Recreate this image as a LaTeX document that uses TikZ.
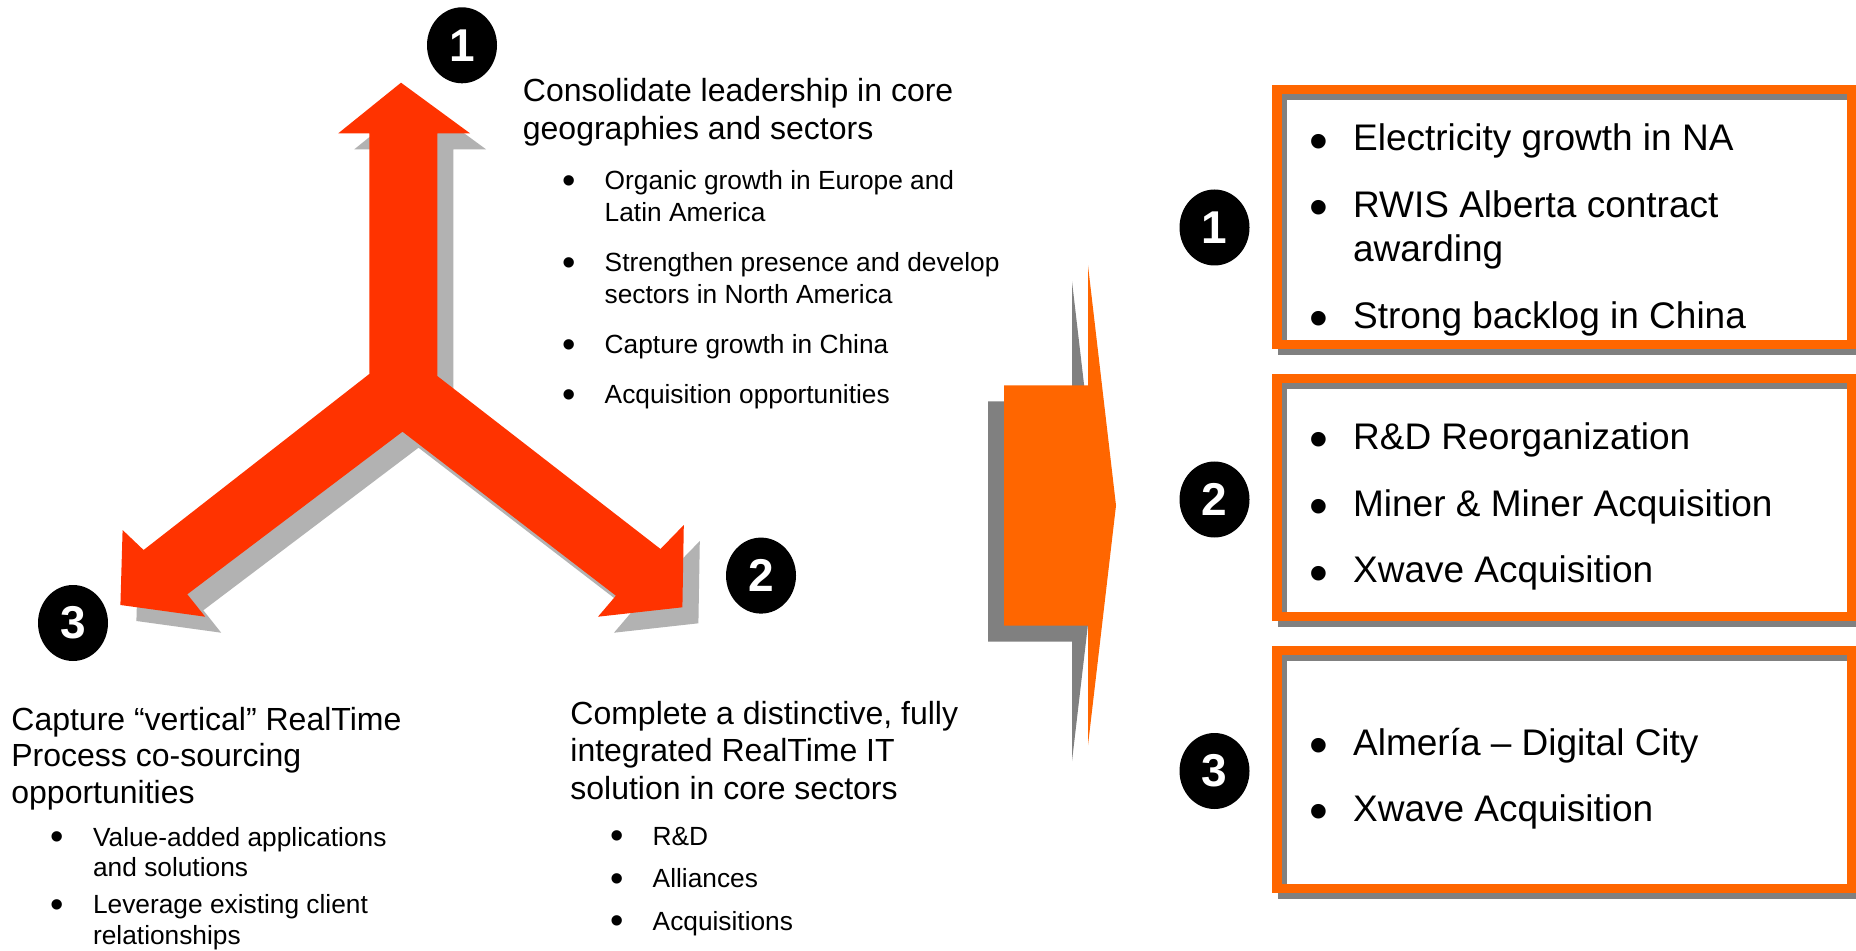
\documentclass[tikz,border=0pt]{standalone}
\usepackage{fontspec}
\setmainfont{Liberation Sans}
\usepackage{tikz}
\usetikzlibrary{positioning, shapes.geometric}
\usepackage{xcolor}

\definecolor{arrowRed}{HTML}{FF3300}
\definecolor{arrowShade}{HTML}{B2B2B2}
\definecolor{frameOrange}{HTML}{FF6600}
\definecolor{frameShade}{HTML}{808080}

% outline of the three-way arrow and of the big arrow (units: x=0.5pt, y=-0.5pt)
\newcommand{\forkArrowPath}{(401,82.7) -- (470,133.3) -- (437.3,133.3) -- (437.3,376) -- (660.5,549) -- (683.8,525) -- (682.4,607.3) -- (598,616.7) -- (615.9,595.7) -- (402.5,431.7) -- (187.3,594.3) -- (205.2,616.7) -- (120.4,605) -- (122.6,530) -- (143.6,550) -- (369.3,374) -- (369.3,133.3) -- (338.3,133.3) -- cycle}
\newcommand{\bigArrowPath}{(1004,385.5) -- (1088,385.5) -- (1088,265.5) -- (1116,505.5) -- (1088,745) -- (1088,625.5) -- (1004,625.5) -- cycle}
% a slightly heavier bullet
\newcommand{\dotMark}[1]{\hspace{-0.08em}\raisebox{#1}{\scalebox{1.45}{\textbullet}}}

\begin{document}
\begin{tikzpicture}[x=0.5pt, y=-0.5pt,
		numDot/.style={ellipse, fill=black, text=white, inner sep=0pt, minimum width=35pt, minimum height=38pt, font=\fontsize{23pt}{23pt}\selectfont\bfseries},
		textLine/.style={anchor=base west, inner sep=0pt},
		headText/.style={textLine, font=\fontsize{16pt}{#1}\selectfont},
		listText/.style={textLine, font=\fontsize{13.15pt}{#1}\selectfont},
		boxText/.style={textLine, font=\fontsize{18.5pt}{22pt}\selectfont},
		boxFrame/.style={rectangle, draw=frameOrange, line width=4.75pt, minimum width=287.25pt},
		boxShadow/.style={rectangle, draw=frameShade, line width=4.75pt, minimum width=287.25pt}]
		\fill[white] (0,0) rectangle (1856,951);
		\useasboundingbox (0,0) rectangle (1856,951);

		% three-way arrow with its shadow
		\fill[arrowShade, shift={(16,16)}] \forkArrowPath;
		\fill[arrowRed] \forkArrowPath;

		% big arrow pointing to the boxes
		\fill[frameShade, shift={(-16,16)}] \bigArrowPath;
		\fill[frameOrange] \bigArrowPath;

		\node (oneLeft)[numDot] at (462,45.3) {1};
		\node (twoLeft)[numDot] at (761,575.6) {2};
		\node (threeLeft)[numDot] at (73,623) {3};

		\node (leadHead)[headText=19.15pt] at (522.5,101.7) {\begin{tabular}[t]{@{}l@{}}Consolidate leadership in core\\geographies and sectors\end{tabular}};
		\node (leadList)[listText=16.2pt] at (563.7,189.3) {\begin{tabular}[t]{@{}p{20.3pt}@{}l@{}}
			\dotMark{-0.15em} & Organic growth in Europe and\\
			& Latin America\\[8.7pt]
			\dotMark{-0.15em} & Strengthen presence and develop\\
			& sectors in North America\\[8.7pt]
			\dotMark{-0.15em} & Capture growth in China\\[8.7pt]
			\dotMark{-0.15em} & Acquisition opportunities
		\end{tabular}};

		\node (solutionHead)[headText=18.8pt] at (570,724) {\begin{tabular}[t]{@{}l@{}}Complete a distinctive, fully\\integrated RealTime IT\\solution in core sectors\end{tabular}};
		\node (solutionList)[listText=15.25pt] at (612.1,845) {\begin{tabular}[t]{@{}p{20.1pt}@{}l@{}}
			\dotMark{-0.15em} & R\&D\\[6pt]
			\dotMark{-0.15em} & Alliances\\[6pt]
			\dotMark{-0.15em} & Acquisitions
		\end{tabular}};

		\node (processHead)[headText=18.3pt] at (11,730) {\begin{tabular}[t]{@{}l@{}}Capture “vertical” RealTime\\Process co-sourcing\\opportunities\end{tabular}};
		\node (processList)[listText=15.25pt] at (52.1,846) {\begin{tabular}[t]{@{}p{20.3pt}@{}l@{}}
			\dotMark{-0.15em} & Value-added applications\\
			& and solutions\\[3.4pt]
			\dotMark{-0.15em} & Leverage existing client\\
			& relationships
		\end{tabular}};

		% result boxes on the right
		\node (boxOneShadow)[boxShadow, minimum height=127.5pt] at (1569.75,222.5) {};
		\node (boxOne)[boxFrame, minimum height=127.5pt] at (1564.25,217) {};
		\node (boxTwoShadow)[boxShadow, minimum height=119pt] at (1569.75,503) {};
		\node (boxTwo)[boxFrame, minimum height=119pt] at (1564.25,497.5) {};
		\node (boxThreeShadow)[boxShadow, minimum height=119pt] at (1569.75,775) {};
		\node (boxThree)[boxFrame, minimum height=119pt] at (1564.25,769.5) {};

		\node (oneRight)[numDot] at (1214.5,227.5) {1};
		\node (twoRight)[numDot] at (1214.5,499.5) {2};
		\node (threeRight)[numDot] at (1214.5,771) {3};

		\node (boxOneList)[boxText] at (1311.8,151) {\begin{tabular}[t]{@{}p{20.45pt}@{}l@{}}
			\dotMark{-0.22em} & Electricity growth in NA\\[11.35pt]
			\dotMark{-0.22em} & RWIS Alberta contract\\
			& awarding\\[11.35pt]
			\dotMark{-0.22em} & Strong backlog in China
		\end{tabular}};
		\node (boxTwoList)[boxText] at (1311.8,449.6) {\begin{tabular}[t]{@{}p{20.45pt}@{}l@{}}
			\dotMark{-0.22em} & R\&D Reorganization\\[11.35pt]
			\dotMark{-0.22em} & Miner \& Miner Acquisition\\[11.35pt]
			\dotMark{-0.22em} & Xwave Acquisition
		\end{tabular}};
		\node (boxThreeList)[boxText] at (1311.8,755) {\begin{tabular}[t]{@{}p{20.45pt}@{}l@{}}
			\dotMark{-0.22em} & Almería – Digital City\\[11.35pt]
			\dotMark{-0.22em} & Xwave Acquisition
		\end{tabular}};
	\end{tikzpicture}
\end{document}
